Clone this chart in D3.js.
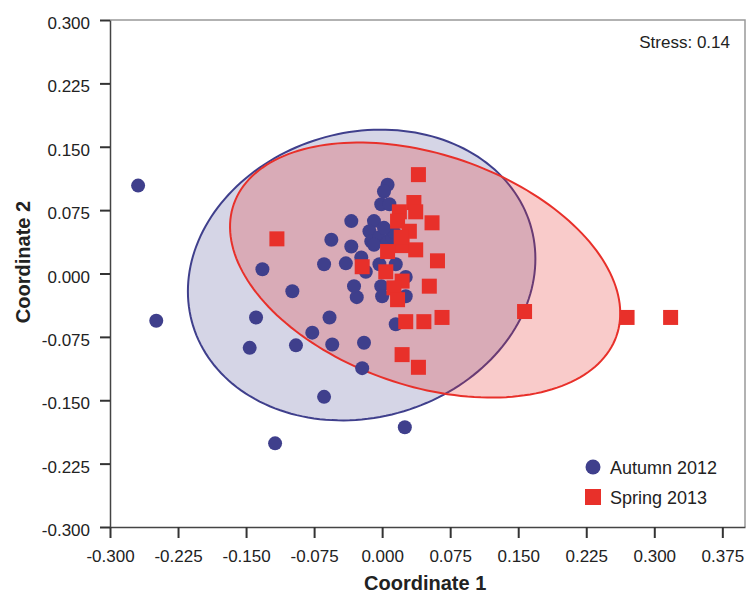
<!DOCTYPE html>
<html>
<head>
<meta charset="utf-8">
<script src="https://cdn.jsdelivr.net/npm/d3@7"></script>
<style>
  body { margin: 0; background: #fff; }
  text { font-family: "Liberation Sans", Arial, sans-serif; fill: #222; }
</style>
</head>
<body>
<div id="chart"></div>
<script>
// NMDS coordinates
const autumnX = [-0.269, -0.249, -0.132, -0.099, -0.139, -0.146, -0.095, -0.077, -0.058, -0.055,
  -0.020, -0.022, -0.064, -0.118, 0.025, -0.056, -0.064, -0.034, -0.034, -0.040,
  -0.018, -0.028, -0.031, 0.006, 0.002, -0.001, 0.008, -0.009, -0.014, -0.012,
  -0.003, 0.006, 0.011, 0.013, -0.023, -0.003, 0.015, 0.026, -0.001, 0.000,
  0.026, 0.015, -0.009, 0.002];
const autumnY = [0.104, -0.056, 0.005, -0.021, -0.052, -0.088, -0.085, -0.070, -0.052, -0.084,
  -0.082, -0.112, -0.146, -0.201, -0.182, 0.040, 0.011, 0.062, 0.032, 0.012,
  0.002, -0.028, -0.015, 0.105, 0.097, 0.082, 0.082, 0.062, 0.050, 0.038,
  0.043, 0.037, 0.043, 0.049, 0.019, 0.011, 0.011, -0.004, -0.015, -0.027,
  -0.027, -0.060, 0.034, 0.054];

const springX = [-0.116, 0.040, 0.035, 0.037, 0.019, 0.017, 0.055, 0.030, 0.022, 0.037,
  0.006, 0.061, -0.022, 0.004, 0.022, 0.013, 0.017, 0.052, 0.026, 0.046,
  0.066, 0.022, 0.040, 0.157, 0.270, 0.318, 0.021];
const springY = [0.041, 0.117, 0.084, 0.073, 0.073, 0.062, 0.060, 0.050, 0.033, 0.028,
  0.026, 0.015, 0.008, 0.002, -0.009, -0.017, -0.031, -0.015, -0.057, -0.057,
  -0.052, -0.096, -0.111, -0.045, -0.052, -0.052, 0.043];

// ellipses: center x, center y, semi-axis a, semi-axis b, angle (deg), data units
const autumnEllipse = [-0.0226, -0.0018, 0.1956, 0.1674, 23.1];
const springEllipse = [0.0474, 0.0041, 0.2250, 0.1357, -21.6];

const xTicks = [-0.300, -0.225, -0.150, -0.075, 0.000, 0.075, 0.150, 0.225, 0.300, 0.375];
const yTicks = [-0.300, -0.225, -0.150, -0.075, 0.000, 0.075, 0.150, 0.225, 0.300];
const seriesNames = ["Autumn 2012", "Spring 2013"];
const stressLabel = "Stress: 0.14";

const W = 746, H = 596;
const margin = {top: 20, right: 1, bottom: 69, left: 110};
const width = W - margin.left - margin.right;
const height = H - margin.top - margin.bottom;
const blue = "#3f3f8c", red = "#e8302a";

const svg = d3.select("#chart").append("svg")
    .attr("width", W)
    .attr("height", H);
const g = svg.append("g")
    .attr("transform", "translate(" + margin.left + "," + margin.top + ")");

let x = d3.scaleLinear().domain([-0.3, 0.4]).range([0, width]);
let y = d3.scaleLinear().domain([-0.3, 0.3]).range([height, 0]);

// frame top/right
g.append("path")
  .attr("d", "M0,0H" + width + "V" + height)
  .attr("fill", "none")
  .attr("stroke", "#999")
  .attr("stroke-width", 1.5);

function ellipsePath(e) {
  const [cx, cy, a, b, deg] = e;
  const t = deg * Math.PI / 180;
  const pts = d3.range(0, 361, 2).map(function (k) {
    const u = k * Math.PI / 180;
    const ex = a * Math.cos(u), ey = b * Math.sin(u);
    return [x(cx + ex * Math.cos(t) - ey * Math.sin(t)), y(cy + ex * Math.sin(t) + ey * Math.cos(t))];
  });
  return d3.line()(pts) + "Z";
}

g.append("path")
  .attr("d", ellipsePath(autumnEllipse))
  .attr("fill", blue).attr("fill-opacity", 0.22)
  .attr("stroke", blue).attr("stroke-width", 2);
g.append("path")
  .attr("d", ellipsePath(springEllipse))
  .attr("fill", red).attr("fill-opacity", 0.25)
  .attr("stroke", red).attr("stroke-width", 2);

g.append("g")
  .selectAll("circle")
  .data(autumnX)
  .enter()
  .append("circle")
    .attr("cx", function (d) { return x(d); })
    .attr("cy", function (d, i) { return y(autumnY[i]); })
    .attr("r", 7)
    .style("fill", blue);

const sq = 15;
g.append("g")
  .selectAll("rect")
  .data(springX)
  .enter()
  .append("rect")
    .attr("x", function (d) { return x(d) - sq / 2; })
    .attr("y", function (d, i) { return y(springY[i]) - sq / 2; })
    .attr("width", sq)
    .attr("height", sq)
    .style("fill", red);

// axes
const fmt = function (d) { return d.toFixed(3); };
const xAxis = g.append("g")
  .attr("transform", "translate(0," + height + ")")
  .call(d3.axisBottom(x).tickValues(xTicks).tickFormat(fmt).tickSize(11).tickSizeOuter(0).tickPadding(12));
const yAxis = g.append("g")
  .call(d3.axisLeft(y).tickValues(yTicks).tickFormat(fmt).tickSize(10).tickSizeOuter(0).tickPadding(10));

[xAxis, yAxis].forEach(function (a) {
  a.select(".domain").attr("stroke", "#444").attr("stroke-width", 1.5);
  a.selectAll(".tick line").attr("stroke", "#333").attr("stroke-width", 2);
  a.selectAll(".tick text").style("font-size", "17px").style("font-family", "Liberation Sans, Arial, sans-serif").attr("fill", "#222");
});
yAxis.selectAll(".tick text").attr("dy", "0.5em");

// axis titles
svg.append("text")
  .attr("x", margin.left + x(0.0) + 43)
  .attr("y", 590)
  .attr("text-anchor", "middle")
  .style("font-size", "20px")
  .style("font-weight", "bold")
  .text("Coordinate 1");
svg.append("text")
  .attr("transform", "translate(30," + 262 + ") rotate(-90)")
  .attr("text-anchor", "middle")
  .style("font-size", "20px")
  .style("font-weight", "bold")
  .text("Coordinate 2");

// stress
svg.append("text")
  .attr("x", 730)
  .attr("y", 48)
  .attr("text-anchor", "end")
  .style("font-size", "17px")
  .text(stressLabel);

// legend
const leg = svg.append("g").attr("transform", "translate(593,467)");
leg.append("circle").attr("cx", 0).attr("cy", 0).attr("r", 7.5).style("fill", blue);
leg.append("rect").attr("x", -8).attr("y", 22).attr("width", 16).attr("height", 16).style("fill", red);
leg.selectAll("text")
  .data(seriesNames)
  .enter()
  .append("text")
    .attr("x", 17)
    .attr("y", function (d, i) { return 7 + i * 30; })
    .style("font-size", "18px")
    .text(function (d) { return d; });
</script>
</body>
</html>
